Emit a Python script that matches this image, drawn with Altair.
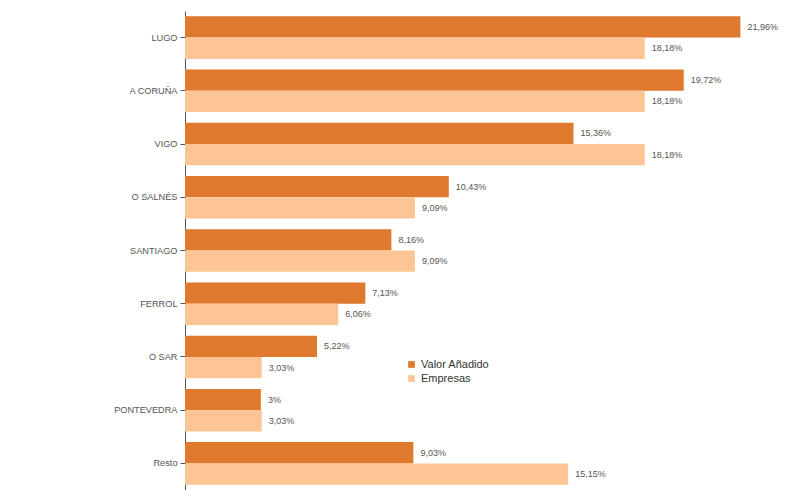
import altair as alt
import pandas as pd

categories = ["LUGO", "A CORUÑA", "VIGO", "O SALNÉS", "SANTIAGO", "FERROL", "O SAR", "PONTEVEDRA", "Resto"]
valor_anadido = [21.96, 19.72, 15.36, 10.43, 8.16, 7.13, 5.22, 3.00, 9.03]
empresas = [18.18, 18.18, 18.18, 9.09, 9.09, 6.06, 3.03, 3.03, 15.15]
series = ["Valor Añadido", "Empresas"]

def fmt(v):
    s = f"{v:.2f}".rstrip("0").rstrip(".")
    return s.replace(".", ",") + "%"

rows = []
for c, a, b in zip(categories, valor_anadido, empresas):
    rows.append({"cat": c, "serie": series[0], "v": a, "label": fmt(a)})
    rows.append({"cat": c, "serie": series[1], "v": b, "label": fmt(b)})
df = pd.DataFrame(rows)

y = alt.Y("cat:N", sort=categories, title=None,
          scale=alt.Scale(paddingInner=0.2, paddingOuter=0.1),
          axis=alt.Axis(labelFont="Liberation Sans", labelFontSize=9.2, labelColor="#555555",
                        domainColor="#555555", tickColor="#555555", tickSize=5, labelPadding=3))
x = alt.X("v:Q", title=None, scale=alt.Scale(domain=[0, 24], nice=False), axis=None)
yoff = alt.YOffset("serie:N", sort=series)

base = alt.Chart(df).encode(y=y, x=x, yOffset=yoff)

bars = base.mark_bar().encode(
    color=alt.Color("serie:N", sort=series,
                    scale=alt.Scale(domain=series, range=["#DE792E", "#FDC596"]),
                    legend=alt.Legend(title=None, orient="none", legendX=221, legendY=348,
                                      symbolType="square", symbolSize=45, labelFontSize=11,
                                      labelFont="Liberation Sans", labelColor="#333333",
                                      rowPadding=2, symbolStrokeWidth=0))
)
texts = base.mark_text(align="left", dx=7, font="Liberation Sans", fontSize=9, color="#555555").encode(
    text="label:N"
)

chart = (bars + texts).properties(
    width=607, height=479,
    autosize=alt.AutoSizeParams(type="none"),
    padding={"left": 177, "top": 3, "right": 0, "bottom": 0},
).configure_view(stroke=None)

chart.save("out.html", embed_options={"renderer": "svg", "actions": False})
